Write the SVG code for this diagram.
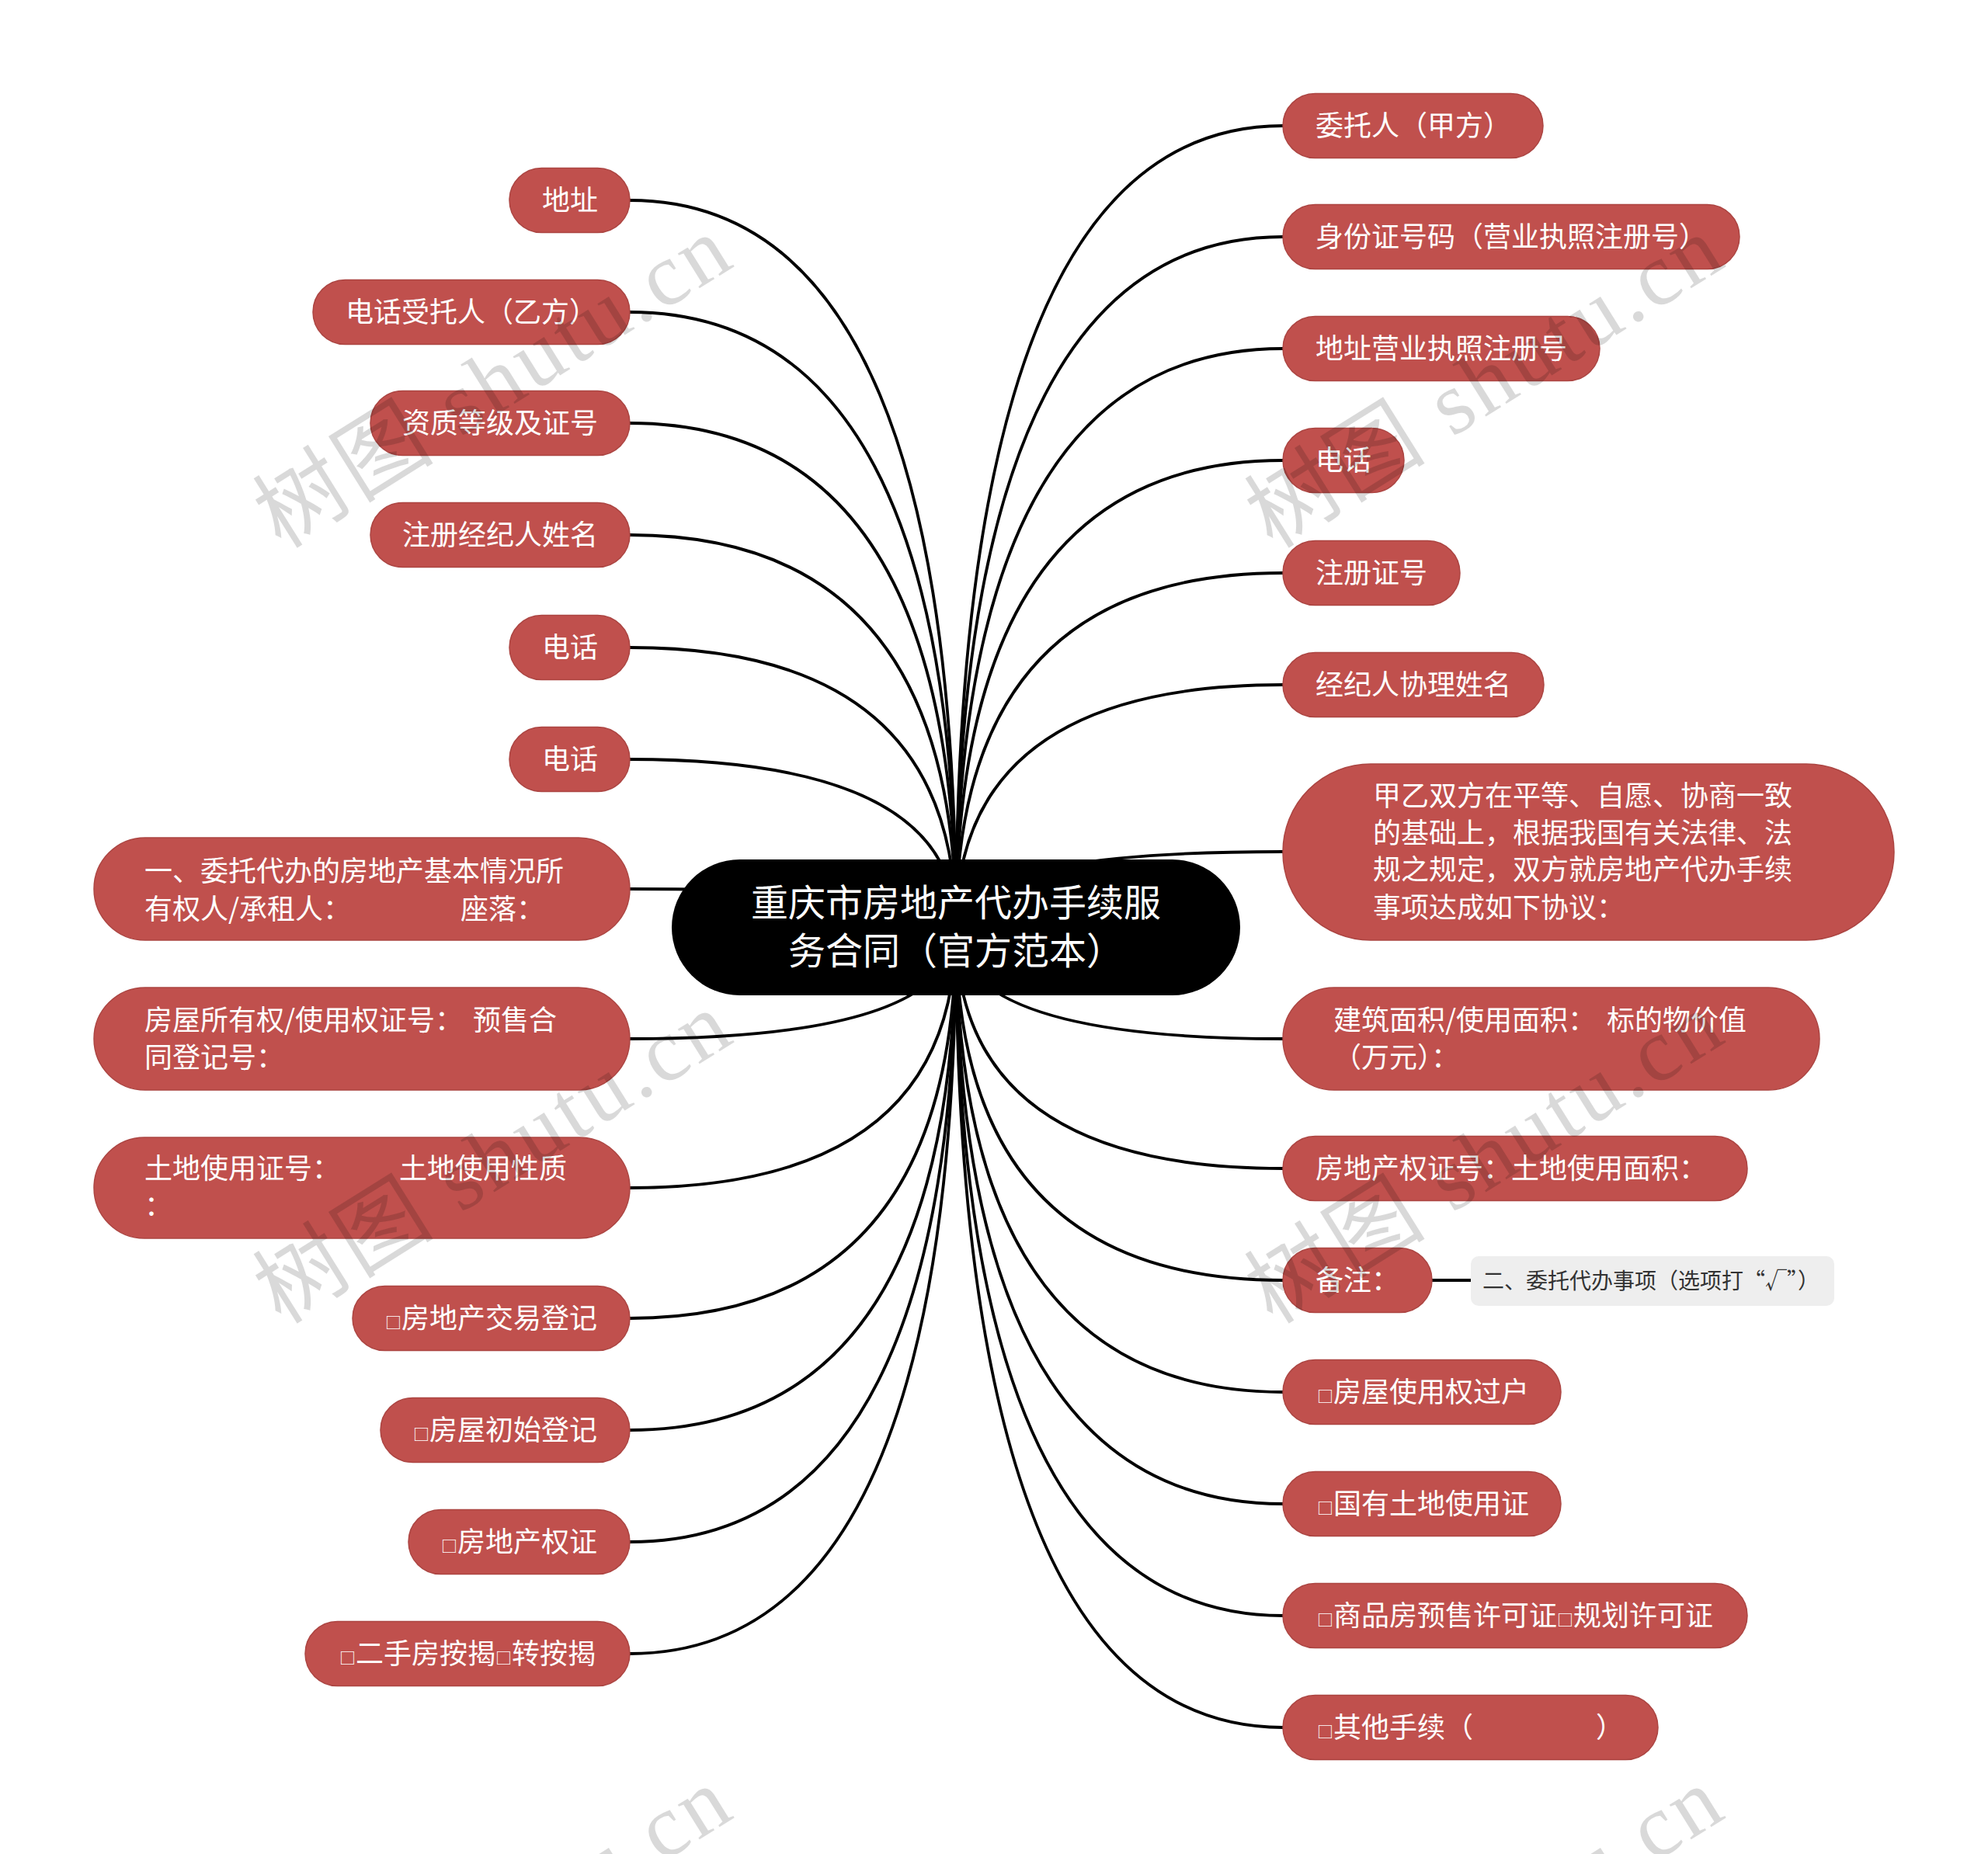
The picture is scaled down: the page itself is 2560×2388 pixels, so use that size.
<svg xmlns="http://www.w3.org/2000/svg" width="2560" height="2388" viewBox="0 0 2560 2388">
<style>
.nd{fill:#C0504D;stroke:#AC4542;stroke-width:1.5}
.t{font-family:"Noto Sans CJK SC","Noto Sans",sans-serif;font-size:36px;fill:#fff}
.sq{font-size:21px}
.rt{font-family:"Noto Sans CJK SC","Noto Sans",sans-serif;font-size:48px;fill:#fff;text-anchor:middle}
.cn path{fill:none;stroke:#000;stroke-width:3.8}
.wm{font-family:"Liberation Serif","Noto Sans CJK SC",serif;font-size:115px;fill:#000;fill-opacity:0.15}
.sub{font-family:"Noto Sans CJK SC","Noto Sans",sans-serif;font-size:28px;fill:#333}
</style>
<rect width="2560" height="2388" fill="#fff"/>
<g id="connectors" class="cn">
<path d="M1231 1195Q1231 258 811 258"/>
<path d="M1231 1195Q1231 402 811 402"/>
<path d="M1231 1195Q1231 545 811 545"/>
<path d="M1231 1195Q1231 689 811 689"/>
<path d="M1231 1195Q1231 834 811 834"/>
<path d="M1231 1195Q1231 978 811 978"/>
<path d="M1231 1195Q1231 1145 811 1145"/>
<path d="M1231 1195Q1231 1338 811 1338"/>
<path d="M1231 1195Q1231 1530 811 1530"/>
<path d="M1231 1195Q1231 1698 811 1698"/>
<path d="M1231 1195Q1231 1842 811 1842"/>
<path d="M1231 1195Q1231 1986 811 1986"/>
<path d="M1231 1195Q1231 2130 811 2130"/>
<path d="M1231 1195Q1231 162 1652 162"/>
<path d="M1231 1195Q1231 305 1652 305"/>
<path d="M1231 1195Q1231 449 1652 449"/>
<path d="M1231 1195Q1231 593 1652 593"/>
<path d="M1231 1195Q1231 738 1652 738"/>
<path d="M1231 1195Q1231 882 1652 882"/>
<path d="M1231 1195Q1231 1097 1652 1097"/>
<path d="M1231 1195Q1231 1338 1652 1338"/>
<path d="M1231 1195Q1231 1505 1652 1505"/>
<path d="M1231 1195Q1231 1649 1652 1649"/>
<path d="M1231 1195Q1231 1793 1652 1793"/>
<path d="M1231 1195Q1231 1937 1652 1937"/>
<path d="M1231 1195Q1231 2081 1652 2081"/>
<path d="M1231 1195Q1231 2225 1652 2225"/>
<path d="M1844 1649L1894 1649"/>
</g>
<g id="root">
<rect x="865" y="1107" width="732" height="175" rx="87.5" fill="#000"/>
<text class="rt" x="1231" y="1180">重庆市房地产代办手续服</text>
<text class="rt" x="1231" y="1242">务合同（官方范本）</text>
</g>
<g id="l1"><rect class="nd" x="656" y="216.5" width="155" height="83" rx="41.5"/><text class="t" x="698" y="271">地址</text></g>
<g id="l2"><rect class="nd" x="403" y="360.5" width="408" height="83" rx="41.5"/><text class="t" x="445" y="415">电话受托人（乙方）</text></g>
<g id="l3"><rect class="nd" x="477" y="503.5" width="334" height="83" rx="41.5"/><text class="t" x="518" y="558">资质等级及证号</text></g>
<g id="l4"><rect class="nd" x="477" y="647.5" width="334" height="83" rx="41.5"/><text class="t" x="518" y="702">注册经纪人姓名</text></g>
<g id="l5"><rect class="nd" x="656" y="792.5" width="155" height="83" rx="41.5"/><text class="t" x="698" y="847">电话</text></g>
<g id="l6"><rect class="nd" x="656" y="936.5" width="155" height="83" rx="41.5"/><text class="t" x="698" y="991">电话</text></g>
<g id="l7"><rect class="nd" x="121" y="1079" width="690" height="132" rx="66"/><text class="t"><tspan x="186" y="1135">一、委托代办的房地产基本情况所</tspan><tspan x="186" y="1184">有权人/承租人：</tspan><tspan x="593" y="1184">座落：</tspan></text></g>
<g id="l8"><rect class="nd" x="121" y="1272" width="690" height="132" rx="66"/><text class="t"><tspan x="186" y="1327">房屋所有权/使用权证号：</tspan><tspan x="609" y="1327">预售合</tspan><tspan x="186" y="1375">同登记号：</tspan></text></g>
<g id="l9"><rect class="nd" x="121" y="1465" width="690" height="130" rx="65"/><text class="t"><tspan x="186" y="1518">土地使用证号：</tspan><tspan x="514" y="1518">土地使用性质</tspan><tspan x="186" y="1566">：</tspan></text></g>
<g id="l10"><rect class="nd" x="454" y="1656.5" width="357" height="83" rx="41.5"/><text class="t" x="496" y="1711"><tspan class="sq">□</tspan>房地产交易登记</text></g>
<g id="l11"><rect class="nd" x="490" y="1800.5" width="321" height="83" rx="41.5"/><text class="t" x="532" y="1855"><tspan class="sq">□</tspan>房屋初始登记</text></g>
<g id="l12"><rect class="nd" x="526" y="1944.5" width="285" height="83" rx="41.5"/><text class="t" x="568" y="1999"><tspan class="sq">□</tspan>房地产权证</text></g>
<g id="l13"><rect class="nd" x="393" y="2088.5" width="418" height="83" rx="41.5"/><text class="t" x="437" y="2143"><tspan class="sq">□</tspan>二手房按揭<tspan class="sq">□</tspan>转按揭</text></g>
<g id="r1"><rect class="nd" x="1652" y="120.5" width="335" height="83" rx="41.5"/><text class="t" x="1694" y="175">委托人（甲方）</text></g>
<g id="r2"><rect class="nd" x="1652" y="263.5" width="588" height="83" rx="41.5"/><text class="t" x="1694" y="318">身份证号码（营业执照注册号）</text></g>
<g id="r3"><rect class="nd" x="1652" y="407.5" width="408" height="83" rx="41.5"/><text class="t" x="1694" y="462">地址营业执照注册号</text></g>
<g id="r4"><rect class="nd" x="1652" y="551.5" width="156" height="83" rx="41.5"/><text class="t" x="1694" y="606">电话</text></g>
<g id="r5"><rect class="nd" x="1652" y="696.5" width="228" height="83" rx="41.5"/><text class="t" x="1694" y="751">注册证号</text></g>
<g id="r6"><rect class="nd" x="1652" y="840.5" width="336" height="83" rx="41.5"/><text class="t" x="1694" y="895">经纪人协理姓名</text></g>
<g id="r7"><rect class="nd" x="1652" y="984" width="787" height="227" rx="113"/><text class="t"><tspan x="1768" y="1038">甲乙双方在平等、自愿、协商一致</tspan><tspan x="1768" y="1086">的基础上，根据我国有关法律、法</tspan><tspan x="1768" y="1133">规之规定，双方就房地产代办手续</tspan><tspan x="1768" y="1182">事项达成如下协议：</tspan></text></g>
<g id="r8"><rect class="nd" x="1652" y="1272" width="691" height="132" rx="66"/><text class="t"><tspan x="1717" y="1327">建筑面积/使用面积：</tspan><tspan x="2069" y="1327">标的物价值</tspan><tspan x="1717" y="1375">（万元）：</tspan></text></g>
<g id="r9"><rect class="nd" x="1652" y="1463.5" width="598" height="83" rx="41.5"/><text class="t" x="1694" y="1518">房地产权证号：土地使用面积：</text></g>
<g id="r10"><rect class="nd" x="1652" y="1607.5" width="192" height="83" rx="41.5"/><text class="t" x="1694" y="1662">备注：</text></g>
<g id="r10a"><rect x="1894" y="1618" width="468" height="64" rx="10" fill="#EEEEEE"/><text class="sub" x="1909" y="1660">二、委托代办事项（选项打“√”）</text></g>
<g id="r11"><rect class="nd" x="1652" y="1751.5" width="358" height="83" rx="41.5"/><text class="t" x="1696" y="1806"><tspan class="sq">□</tspan>房屋使用权过户</text></g>
<g id="r12"><rect class="nd" x="1652" y="1895.5" width="358" height="83" rx="41.5"/><text class="t" x="1696" y="1950"><tspan class="sq">□</tspan>国有土地使用证</text></g>
<g id="r13"><rect class="nd" x="1652" y="2039.5" width="598" height="83" rx="41.5"/><text class="t" x="1696" y="2094"><tspan class="sq">□</tspan>商品房预售许可证<tspan class="sq">□</tspan>规划许可证</text></g>
<g id="r14"><rect class="nd" x="1652" y="2183.5" width="483" height="83" rx="41.5"/><text class="t" x="1696" y="2238"><tspan class="sq">□</tspan>其他手续（<tspan x="2055">）</tspan></text></g>
<g id="watermarks">
<text class="wm" x="362" y="708" transform="rotate(-32 362 708)" textLength="690" lengthAdjust="spacing">树图 shutu.cn</text>
<text class="wm" x="1639" y="708" transform="rotate(-32 1639 708)" textLength="690" lengthAdjust="spacing">树图 shutu.cn</text>
<text class="wm" x="362" y="1707" transform="rotate(-32 362 1707)" textLength="690" lengthAdjust="spacing">树图 shutu.cn</text>
<text class="wm" x="1639" y="1707" transform="rotate(-32 1639 1707)" textLength="690" lengthAdjust="spacing">树图 shutu.cn</text>
<text class="wm" x="362" y="2706" transform="rotate(-32 362 2706)" textLength="690" lengthAdjust="spacing">树图 shutu.cn</text>
<text class="wm" x="1639" y="2706" transform="rotate(-32 1639 2706)" textLength="690" lengthAdjust="spacing">树图 shutu.cn</text>
</g>
</svg>
